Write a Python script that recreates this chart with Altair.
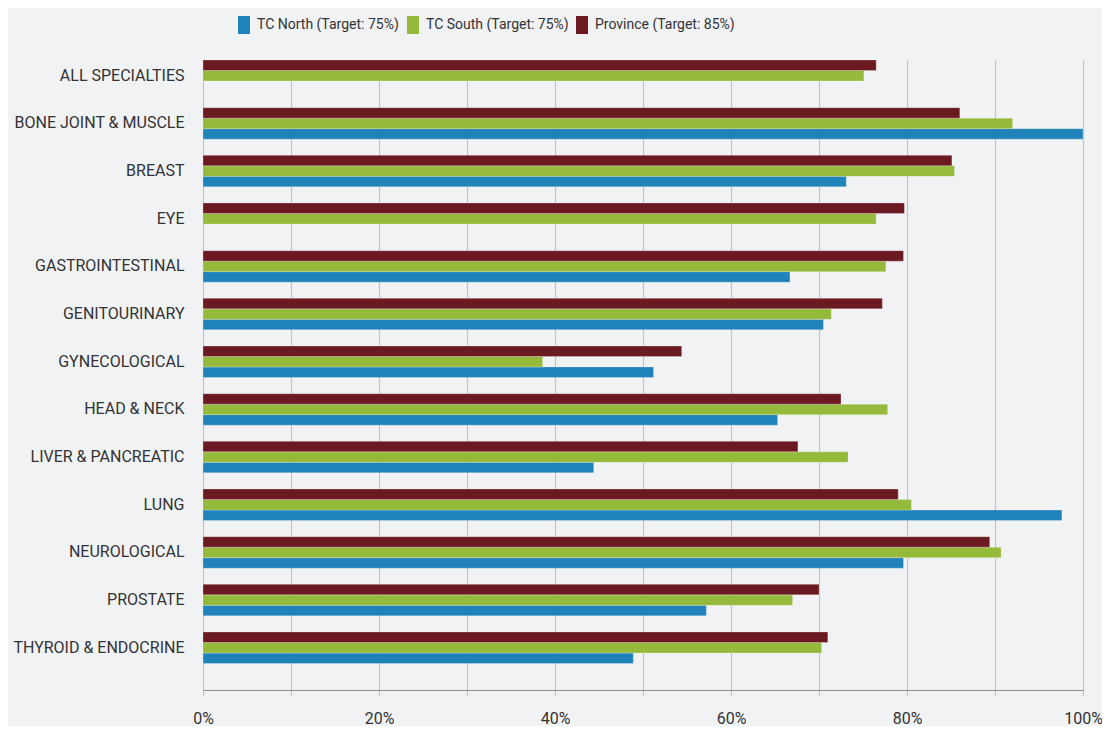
import altair as alt
import pandas as pd

categories = ["ALL SPECIALTIES", "BONE JOINT & MUSCLE", "BREAST", "EYE", "GASTROINTESTINAL",
              "GENITOURINARY", "GYNECOLOGICAL", "HEAD & NECK", "LIVER & PANCREATIC", "LUNG",
              "NEUROLOGICAL", "PROSTATE", "THYROID & ENDOCRINE"]
series_names = ["TC North (Target: 75%)", "TC South (Target: 75%)", "Province (Target: 85%)"]
tc_north = [None, 100.0, 73.1, None, 66.7, 70.5, 51.2, 65.3, 44.4, 97.6, 79.6, 57.2, 48.9]
tc_south = [75.1, 92.0, 85.4, 76.5, 77.6, 71.4, 38.6, 77.8, 73.3, 80.5, 90.7, 67.0, 70.3]
province = [76.5, 86.0, 85.1, 79.7, 79.6, 77.2, 54.4, 72.5, 67.6, 79.0, 89.4, 70.0, 71.0]
colors = ["#1f82b8", "#95b93a", "#6b1a21"]
x_ticks = [0, 10, 20, 30, 40, 50, 60, 70, 80, 90, 100]

rows = []
for name, vals in zip(series_names, [tc_north, tc_south, province]):
    for c, v in zip(categories, vals):
        if v is not None:
            rows.append({"category": c, "series": name, "value": v})
df = pd.DataFrame(rows)

FONT = "Roboto, Liberation Sans, sans-serif"

chart = alt.Chart(df).mark_bar(stroke="#ffffff", strokeOpacity=0.25, strokeWidth=1).encode(
    x=alt.X("value:Q",
            scale=alt.Scale(domain=[0, 100], nice=False),
            axis=alt.Axis(values=x_ticks, title=None,
                          labelExpr="datum.value % 20 == 0 ? datum.value + '%' : ''",
                          grid=True, gridColor="#c2c3c6", gridWidth=1.2,
                          tickColor="#c2c3c6", tickSize=6, tickWidth=1.2,
                          domainColor="#8e8f92", domainWidth=1.2,
                          labelFont=FONT, labelFontSize=16, labelColor="#333333",
                          labelPadding=14, labelFlush=False)),
    y=alt.Y("category:N", sort=categories,
            scale=alt.Scale(paddingInner=0.34, paddingOuter=0.278, align=0),
            axis=alt.Axis(title=None, domain=False, ticks=False, grid=False,
                          labelFont=FONT, labelFontSize=16, labelColor="#333333",
                          labelPadding=19, labelLimit=300)),
    yOffset=alt.YOffset("series:N", scale=alt.Scale(domain=list(reversed(series_names)))),
    color=alt.Color("series:N",
                    scale=alt.Scale(domain=series_names, range=colors),
                    legend=alt.Legend(title=None, orient="none", direction="horizontal",
                                      legendX=32, legendY=-44, columns=3, gridAlign="all",
                                      columnPadding=4, padding=0,
                                      symbolType="M -0.667 -1 H 0.667 V 1 H -0.667 Z",
                                      symbolSize=324, symbolStrokeWidth=0, symbolOpacity=1,
                                      labelFont=FONT, labelFontSize=14, labelColor="#333333",
                                      labelOffset=4, labelLimit=300)),
).properties(
    width=880, height=630,
    background="#f1f2f4",
    padding={"left": 195, "top": 52, "right": 19, "bottom": 36},
    autosize=alt.AutoSizeParams(type="none"),
).configure_view(stroke=None)

chart.save("out.html", embed_options={"renderer": "svg", "actions": False})
